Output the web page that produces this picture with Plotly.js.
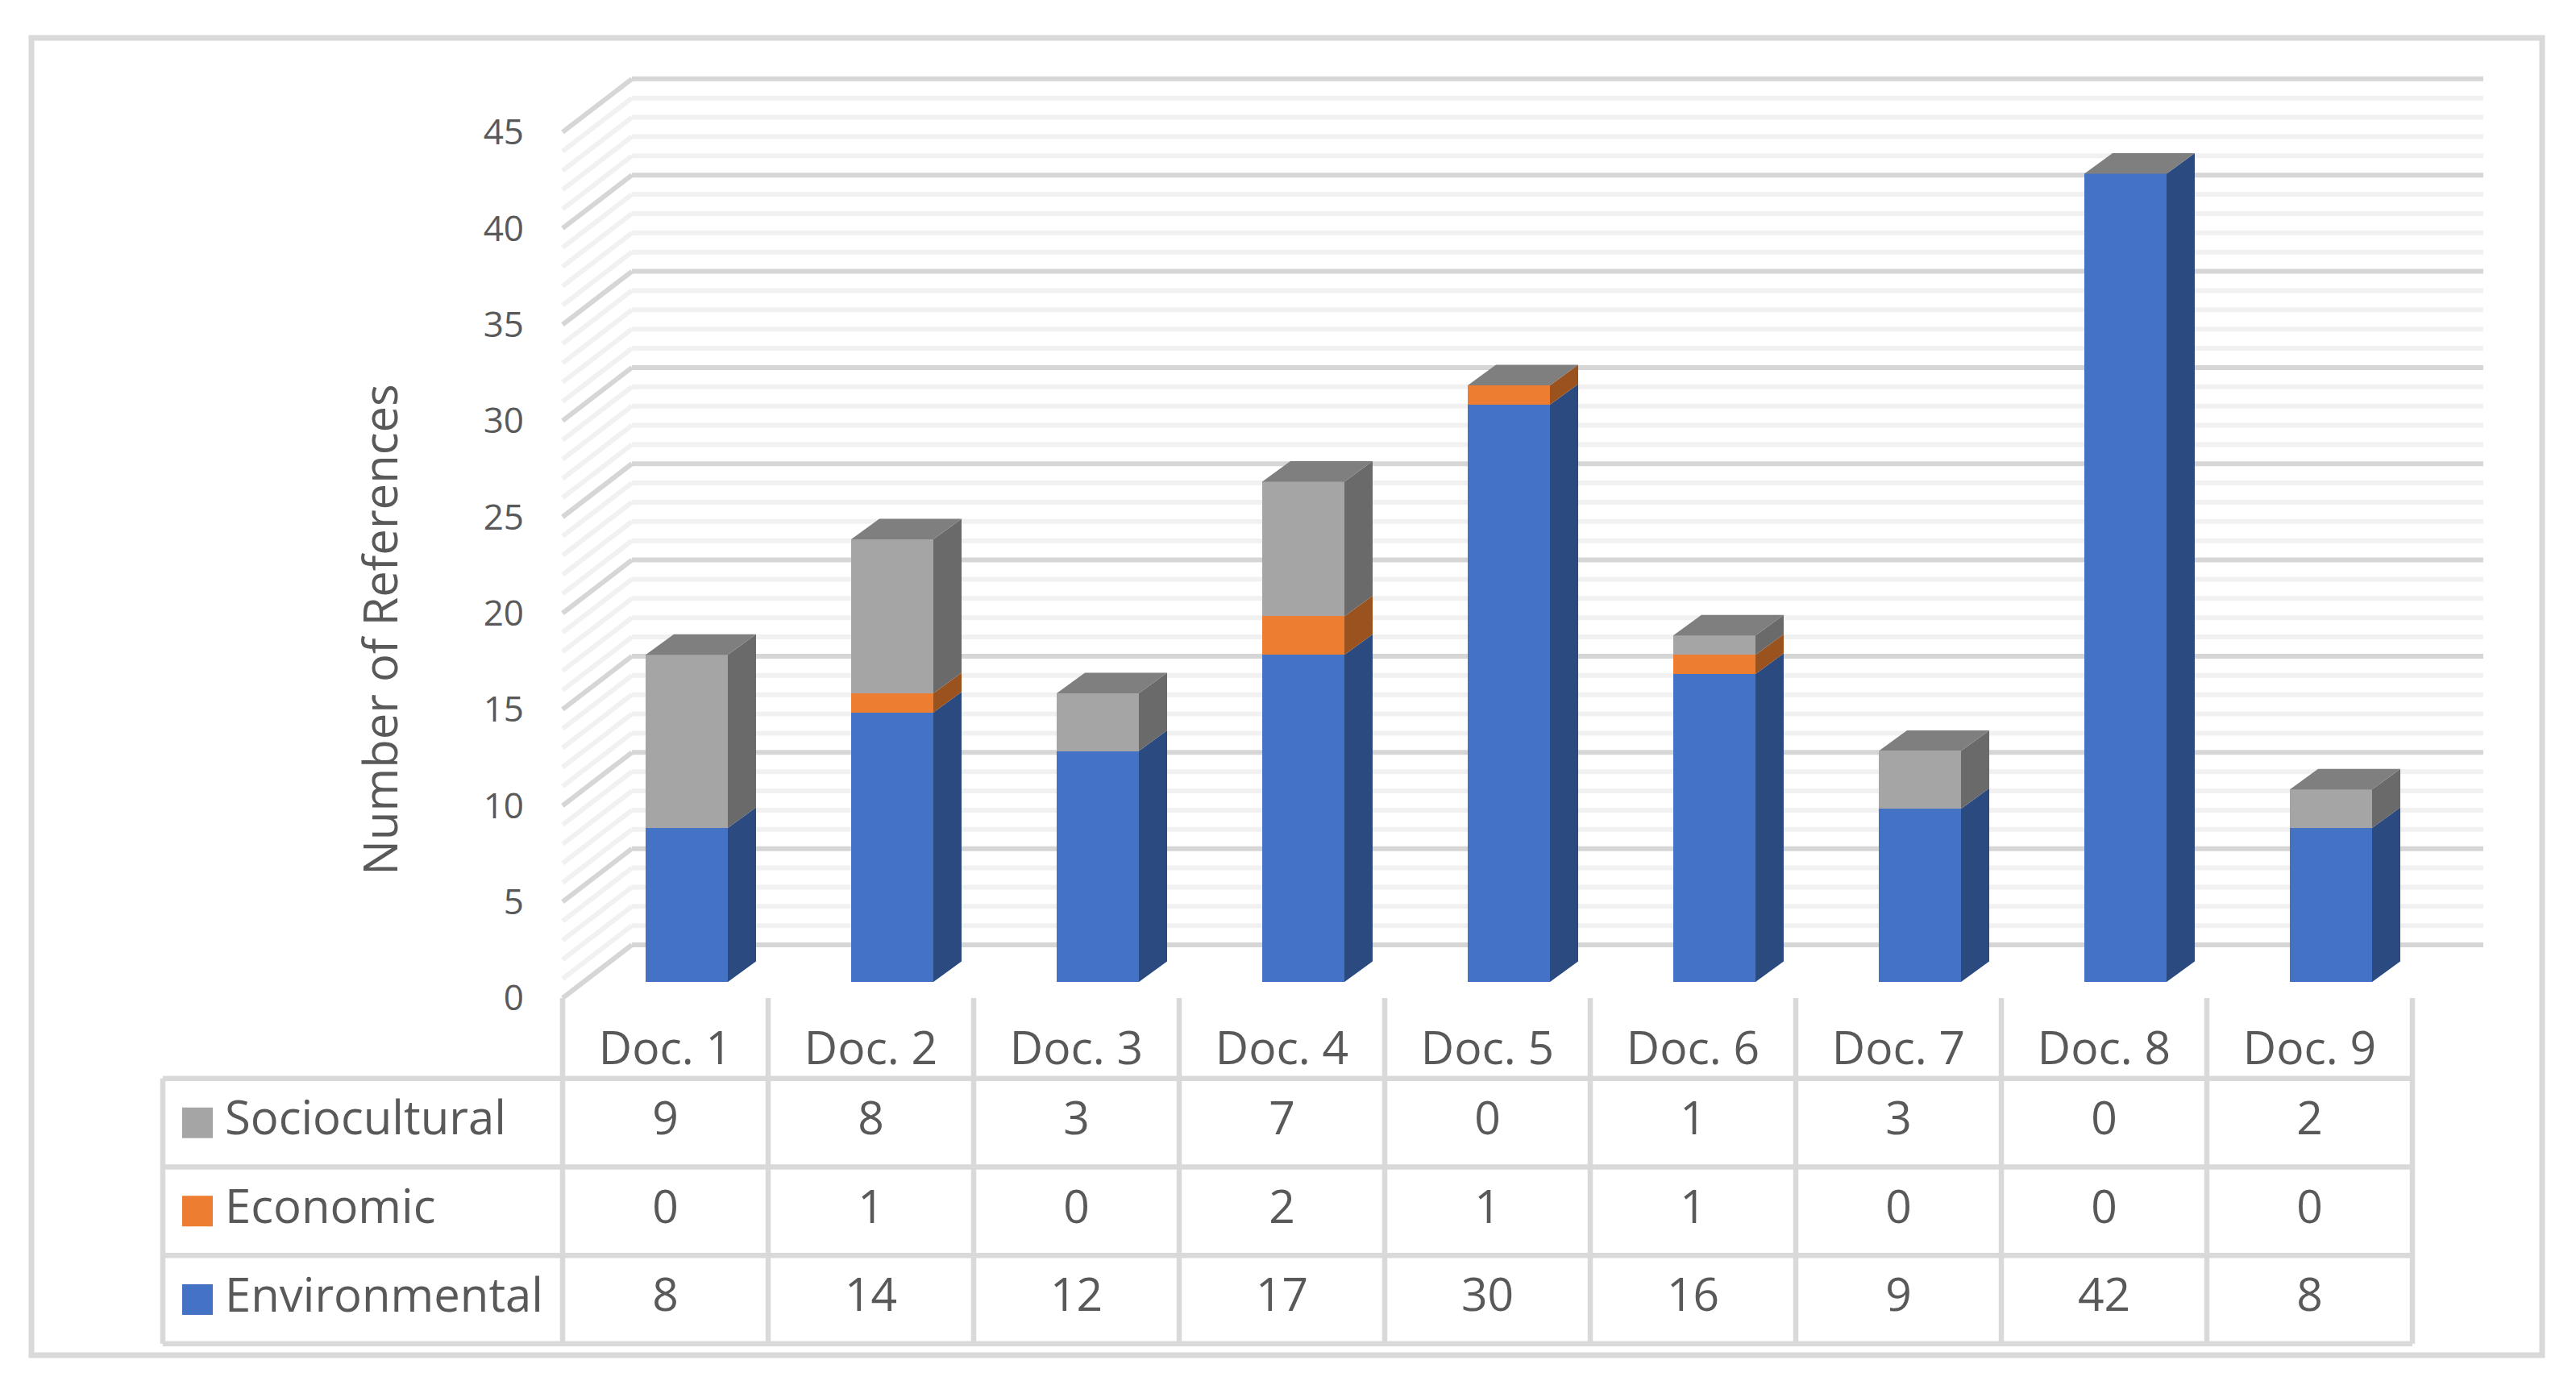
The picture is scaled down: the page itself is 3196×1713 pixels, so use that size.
<!DOCTYPE html>
<html>
<head>
<meta charset="utf-8">
<script src="https://cdn.plot.ly/plotly-3.0.1.min.js"></script>
<style>html,body{margin:0;padding:0;background:#fff}#c{width:3196px;height:1713px}</style>
</head>
<body>
<div id="c"></div>
<script>
const categories = ["Doc. 1","Doc. 2","Doc. 3","Doc. 4","Doc. 5","Doc. 6","Doc. 7","Doc. 8","Doc. 9"];
const sociocultural = [9,8,3,7,0,1,3,0,2];
const economic = [0,1,0,2,1,1,0,0,0];
const environmental = [8,14,12,17,30,16,9,42,8];
const yTicks = [0,5,10,15,20,25,30,35,40,45];
const minorTicks = [1,2,3,4,6,7,8,9,11,12,13,14,16,17,18,19,21,22,23,24,26,27,28,29,31,32,33,34,36,37,38,39,41,42,43,44];
const stackOrder = ["Environmental","Economic","Sociocultural"];
const seriesValues = [environmental, economic, sociocultural];
const frontColors = ["#4472C4","#ED7D31","#A5A5A5"];
const sideColors = ["#2A4A80","#9A521F","#6A6A6A"];
const topColor = "#7F7F7F";
const textColor = "#595959";
const font = "'Open Sans', sans-serif";

const W = 3196, H = 1713;
const unitPx = 23.87, bandPx = 255, rowPx = 109.67;
const barX0 = 852, barY0 = 1218;             // pixel of Doc. 1 / value 0 in the bar plane
const tableX0 = 825.5, tableY0 = 1612;       // pixel of Doc. 1 column centre / bottom row centre
const frontY0 = 1238;                        // value 0 on the front edge of the floor
const xOf = p => (p - barX0) / bandPx;
const yOf = p => (barY0 - p) / unitPx;
const colOf = p => (p - tableX0) / bandPx;
const rowOf = p => (tableY0 - p) / rowPx;
const frac = p => (H - p) / H;

const barWidth = 0.4, depthX = 35 / bandPx, depthY = 25.5 / unitPx;

// ---------- back wall & side wall gridlines (below everything) ----------
const shapes = [];
const backL = xOf(784), backR = xOf(3081), frontL = xOf(698);
const backDy = (barY0 - 1172) / unitPx, frontDy = (barY0 - frontY0) / unitPx;
function grid(v, color, w) {
  const line = {color, width: w};
  shapes.push({type:"line", layer:"below", xref:"x", yref:"y", x0:frontL, x1:backL, y0:v+frontDy, y1:v+backDy, line});
  shapes.push({type:"line", layer:"below", xref:"x", yref:"y", x0:backL, x1:backR, y0:v+backDy, y1:v+backDy, line});
}
minorTicks.forEach(v => grid(v, "#F1F1F1", 6));
yTicks.forEach(v => grid(v, "#D6D6D6", 6));

// ---------- table rules ----------
const tableLine = {color:"#D9D9D9", width:6.5};
const colPos = [-0.5,0.5,1.5,2.5,3.5,4.5,5.5,6.5,7.5,8.5];
const rowPos = [-0.5,0.5,1.5,2.5];
const tableLeft = colOf(202), headerTop = rowOf(1238);
colPos.forEach(x => shapes.push({type:"line", layer:"below", xref:"x2", yref:"y3", x0:x, x1:x, y0:-0.5, y1:headerTop, line:tableLine}));
rowPos.forEach(y => shapes.push({type:"line", layer:"below", xref:"x2", yref:"y3", x0:tableLeft, x1:8.5, y0:y, y1:y, line:tableLine}));
shapes.push({type:"line", layer:"below", xref:"x2", yref:"y3", x0:tableLeft, x1:tableLeft, y0:-0.5, y1:2.5, line:tableLine});

// ---------- outer frame ----------
shapes.push({type:"rect", layer:"below", xref:"paper", yref:"paper", x0:39/W, x1:3154/W, y0:frac(1681), y1:frac(47), line:{color:"#D9D9D9", width:7}, fillcolor:"rgba(0,0,0,0)"});

// ---------- bars ----------
const idx = categories.map((_, i) => i);
const traces = [];
stackOrder.forEach((name, s) => {
  traces.push({type:"bar", name, x:idx, y:seriesValues[s], width:barWidth, xaxis:"x", yaxis:"y",
    marker:{color:frontColors[s], line:{width:0}}, hoverinfo:"name+y"});
});

// ---------- 3-D side faces and top faces, from the stacked values ----------
const totals = idx.map(i => seriesValues.reduce((a, v) => a + v[i], 0));
stackOrder.forEach((name, s) => {
  const xs = [], ys = [];
  idx.forEach(i => {
    const lo = seriesValues.slice(0, s).reduce((a, v) => a + v[i], 0);
    const hi = lo + seriesValues[s][i];
    if (hi === lo) return;
    const r = i + barWidth / 2;
    xs.push(r, r + depthX, r + depthX, r, r, null);
    ys.push(lo, lo + depthY, hi + depthY, hi, lo, null);
  });
  traces.push({type:"scatter", mode:"none", x:xs, y:ys, fill:"toself", fillcolor:sideColors[s], hoverinfo:"skip", xaxis:"x", yaxis:"y", name:name+" side"});
});
{
  const xs = [], ys = [];
  idx.forEach(i => {
    const l = i - barWidth / 2, r = i + barWidth / 2, t = totals[i];
    xs.push(l, r, r + depthX, l + depthX, l, null);
    ys.push(t, t, t + depthY, t + depthY, t, null);
  });
  traces.push({type:"scatter", mode:"none", x:xs, y:ys, fill:"toself", fillcolor:topColor, hoverinfo:"skip", xaxis:"x", yaxis:"y", name:"top"});
}

// ---------- data table: cells, row labels, legend keys ----------
const keyX = colOf(245), labelX = colOf(279);
stackOrder.forEach((name, s) => {
  traces.push({type:"scatter", mode:"text", x:idx, y:idx.map(() => s), text:seriesValues[s].map(String),
    textposition:"middle center", textfont:{family:font, size:57, color:textColor}, cliponaxis:false,
    hoverinfo:"skip", xaxis:"x2", yaxis:"y3", name:name+" cells"});
  traces.push({type:"scatter", mode:"text", x:[labelX], y:[s], text:[name], textposition:"middle right",
    textfont:{family:font, size:58, color:textColor}, cliponaxis:false, hoverinfo:"skip", xaxis:"x2", yaxis:"y3", name:name+" label"});
  traces.push({type:"scatter", mode:"markers", x:[keyX], y:[s], marker:{symbol:"square", size:38, color:frontColors[s]}, cliponaxis:false,
    hoverinfo:"skip", xaxis:"x2", yaxis:"y3", name:name+" key"});
});
// carries the value axis on its own subplot
traces.push({type:"scatter", mode:"markers", x:[0], y:[0], marker:{opacity:0, size:1}, hoverinfo:"skip", xaxis:"x2", yaxis:"y2", name:"axis"});

const titleCentre = 781, axisTop = 140;
const axisBottom = 2 * titleCentre - axisTop;

const layout = {
  width:W, height:H, autosize:false, showlegend:false, barmode:"stack", bargap:0,
  margin:{l:0, r:0, t:0, b:0, pad:0}, paper_bgcolor:"#fff", plot_bgcolor:"rgba(0,0,0,0)",
  font:{family:font, color:textColor},
  shapes,
  xaxis:{domain:[0,1], range:[xOf(0), xOf(W)], visible:false, fixedrange:true},
  yaxis:{domain:[0,1], range:[yOf(H), yOf(0)], visible:false, fixedrange:true},
  xaxis2:{domain:[150/W, 3010/W], range:[colOf(150), colOf(3010)], anchor:"free", position:frac(1262), side:"bottom",
    tickmode:"array", tickvals:idx, ticktext:categories, ticks:"", showgrid:false, zeroline:false, showline:false,
    tickfont:{family:font, size:57, color:textColor}, fixedrange:true},
  yaxis2:{domain:[frac(axisBottom), frac(axisTop)], range:[(frontY0-axisBottom)/unitPx, (frontY0-axisTop)/unitPx],
    anchor:"free", position:650/W, side:"left", tickmode:"array", tickvals:yTicks, ticks:"", showgrid:false, zeroline:false, showline:false,
    tickfont:{family:font, size:44, color:textColor}, fixedrange:true,
    title:{text:"Number of References", font:{family:font, size:58, color:textColor}, standoff:86}},
  yaxis3:{domain:[frac(1685), frac(1225)], range:[rowOf(1685), rowOf(1225)], anchor:"x2", visible:false, fixedrange:true}
};
Plotly.newPlot("c", traces, layout, {displayModeBar:false, staticPlot:true});
</script>
</body>
</html>
